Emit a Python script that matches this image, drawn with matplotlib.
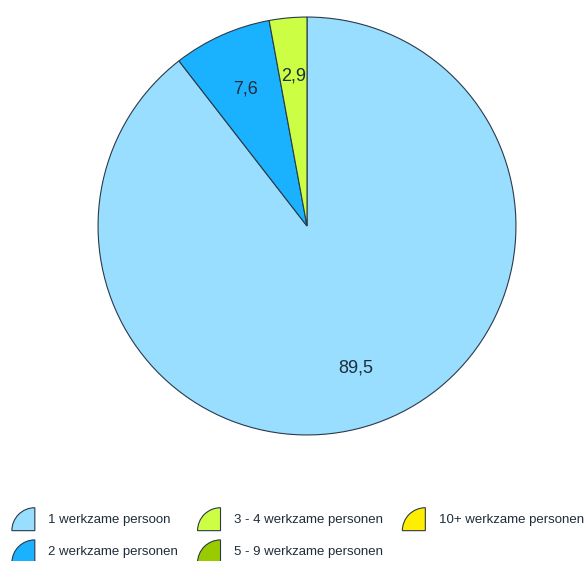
import matplotlib
matplotlib.use("Agg")
from matplotlib import pyplot as plt
from matplotlib.patches import Wedge, Patch
from matplotlib.legend_handler import HandlerPatch

plt.rcParams['font.family'] = ['Liberation Sans', 'DejaVu Sans']

categories = ['1 werkzame persoon', '2 werkzame personen', '3 - 4 werkzame personen',
              '5 - 9 werkzame personen', '10+ werkzame personen']
values = [89.5, 7.6, 2.9, 0.0, 0.0]
colors = ['#99DDFF', '#1AB2FF', '#CCFF44', '#99CC00', '#FFEE00']
edge = '#2A3A4A'
text_col = '#1E2D3C'


class QuarterHandler(HandlerPatch):
    def create_artists(self, legend, orig_handle, xdescent, ydescent, width, height, fontsize, trans):
        r = min(width, height)
        w = Wedge((-xdescent + width, -ydescent), r, 90, 180,
                  facecolor=orig_handle.get_facecolor(), edgecolor=edge, linewidth=0.8,
                  transform=trans)
        return [w]


fig = plt.figure(figsize=(5.87, 5.61), dpi=100)
ax = fig.add_axes([97 / 587, 1 - 436 / 561, 420 / 587, 420 / 561])

shown = [(v, c) for v, c in zip(values, colors) if v > 0]
wedges, texts = ax.pie([v for v, c in shown], colors=[c for v, c in shown],
                       startangle=90, counterclock=False,
                       labels=[f'{v:.1f}'.replace('.', ',') for v, c in shown],
                       labeldistance=0.72,
                       wedgeprops=dict(edgecolor=edge, linewidth=0.8),
                       textprops=dict(fontsize=13, color=text_col, ha='center', va='center'))
ax.set_xlim(-1.005, 1.005)
ax.set_ylim(-1.005, 1.005)
ax.set_aspect('equal')

handles = [Patch(facecolor=c) for c in colors]
fig.legend(handles, categories, loc='upper left', bbox_to_anchor=(0.02, 0.095),
           ncol=3, frameon=False, fontsize=9.5,
           handler_map={Patch: QuarterHandler()},
           handlelength=1.75, handleheight=2.3, handletextpad=1.0,
           labelspacing=0.7, columnspacing=1.48, borderaxespad=0, borderpad=0,
           labelcolor=text_col)

fig.savefig('out.png', dpi=100)
